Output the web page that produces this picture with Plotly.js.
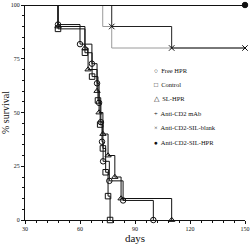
<!DOCTYPE html>
<html><head><meta charset="utf-8">
<script src="https://cdn.plot.ly/plotly-3.0.1.min.js"></script>
<style>html,body{margin:0;padding:0;background:#fff}#c{width:250px;height:247px}</style>
</head><body><div id="c"></div>
<script>
// Kaplan-Meier style survival data (days, % survival)
const freeHprDays = [30, 48, 60, 66.5, 69.3, 70.4, 71.4, 72, 72.6, 76, 83.5, 100];
const freeHprSurv = [100, 90.9, 81.8, 72.7, 63.6, 54.5, 45.5, 36.4, 27.3, 18.2, 9.1, 0];
const controlDays = [30, 48, 62.7, 66.6, 69.8, 71, 72.5, 74, 75.3, 76.4];
const controlSurv = [100, 88.9, 77.8, 66.7, 55.6, 44.4, 33.3, 22.2, 11.1, 0];
const slHprDays = [30, 48, 62.7, 64.4, 69.3, 70.4, 72.5, 75.3, 79, 82.4, 110];
const slHprSurv = [100, 90, 80, 70, 60, 50, 40, 30, 20, 10, 0];
const mAbDays = [30, 72.4, 77.3, 150];
const mAbSurv = [100, 90, 80, 80];
const blankDays = [30, 77.3, 110, 150];
const blankSurv = [100, 90, 80, 80];
const silHprDays = [30, 150];
const silHprSurv = [100, 100];

const legendNames = ["Free HPR", "Control", "SL-HPR", "Anti-CD2 mAb", "Anti-CD2-SIL-blank", "Anti-CD2-SIL-HPR"];
const legendSymbols = ["○", "□", "△", "+", "×", "●"];

const xTicks = [30, 60, 90, 120, 150];
const yTicks = [0, 25, 50, 75, 100];

function km(days, surv, name, sym, size, lineColor, showMarkers) {
  return {
    x: days, y: surv, name: name, type: 'scatter', mode: showMarkers ? 'lines+markers' : 'lines',
    line: {shape: 'hv', color: lineColor || '#111', width: 1},
    marker: {symbol: sym, size: size, color: '#111', opacity: days.map((d, i) => i === 0 ? 0 : 1),
             line: {color: '#111', width: 1}},
    cliponaxis: false, showlegend: false
  };
}

const traces = [
  km(mAbDays, mAbSurv, 'Anti-CD2 mAb', 'cross-thin', 5, '#9a9a9a', false),
  km(freeHprDays, freeHprSurv, 'Free HPR', 'circle-open', 5.5, '#111', true),
  km(controlDays, controlSurv, 'Control', 'square-open', 5.5, '#111', true),
  km(slHprDays, slHprSurv, 'SL-HPR', 'triangle-up-open', 5.5, '#111', true),
  km(blankDays, blankSurv, 'Anti-CD2-SIL-blank', 'x-thin', 5.5, '#222', true),
  km(silHprDays, silHprSurv, 'Anti-CD2-SIL-HPR', 'circle', 5.5, '#111', true)
];
traces[5].line.width = 2;

const font = {family: 'Liberation Serif, Times New Roman, serif', color: '#111'};
const annotations = legendNames.map((n, i) => ({
  xref: 'paper', yref: 'paper', x: 0.575, y: (220 - (70 + i * 14.4)) / 215,
  xanchor: 'left', yanchor: 'middle', showarrow: false,
  text: legendSymbols[i] + '  ' + n,
  font: Object.assign({}, font, {size: 6.5})
}));

const layout = {
  width: 250, height: 247,
  margin: {l: 25, r: 5, t: 5, b: 27},
  paper_bgcolor: '#fff', plot_bgcolor: '#fff',
  showlegend: false,
  font: font,
  xaxis: {
    range: [30, 150], tickvals: xTicks, ticktext: xTicks.map(String),
    showgrid: false, zeroline: false, showline: true, linecolor: '#111', linewidth: 1,
    ticks: 'outside', ticklen: 3, tickcolor: '#111', tickfont: Object.assign({}, font, {size: 6}),
    minor: {dtick: 6, tick0: 30, ticks: 'outside', ticklen: 2, tickcolor: '#111', showgrid: false},
    title: {text: 'days', font: Object.assign({}, font, {size: 11}), standoff: 2}
  },
  yaxis: {
    range: [0, 100], tickvals: yTicks, ticktext: yTicks.map(String),
    showgrid: false, zeroline: false, showline: true, linecolor: '#111', linewidth: 1,
    ticks: 'outside', ticklen: 3, tickcolor: '#111', tickfont: Object.assign({}, font, {size: 6}),
    minor: {dtick: 5, tick0: 0, ticks: 'outside', ticklen: 2, tickcolor: '#111', showgrid: false},
    title: {text: '% survival', font: Object.assign({}, font, {size: 10}), standoff: 4}
  },
  annotations: annotations
};

Plotly.newPlot('c', traces, layout, {staticPlot: true, displayModeBar: false});
</script></body></html>
